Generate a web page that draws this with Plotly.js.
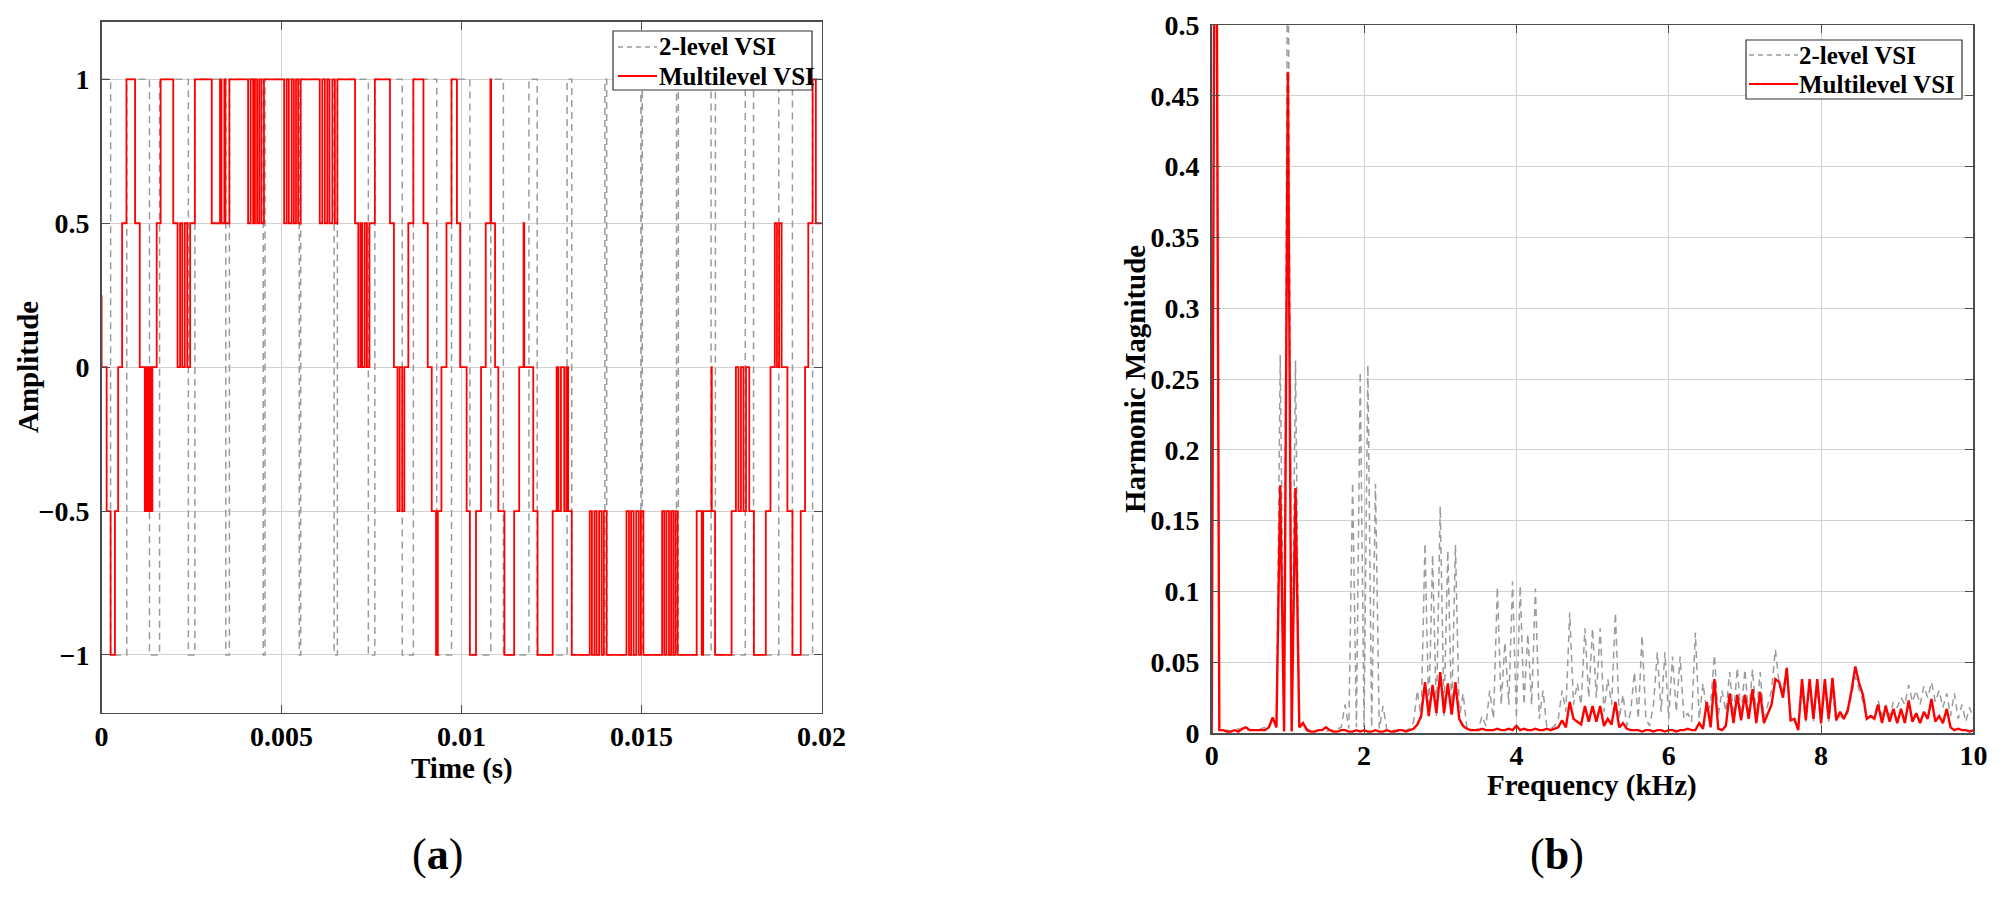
<!DOCTYPE html>
<html>
<head>
<meta charset="utf-8">
<script src="https://cdn.plot.ly/plotly-3.0.1.min.js"></script>
<style>
  html, body { margin: 0; padding: 0; background: #ffffff; }
  #chart { width: 2005px; height: 898px; }
</style>
</head>
<body>
<div id="chart"></div>
<script>
// ---------- (a) output voltage over one 50 Hz period ----------
// 2-level VSI: [switching instant in ms, level held afterwards]
const twoLevelSteps = [
  [0, 1], [0.25, -1], [0.70, 1], [1.33, -1], [1.61, 1], [2.41, -1], [2.59, 1],
  [3.45, -1], [3.55, 1], [4.49, -1], [4.54, 1], [5.49, -1], [5.53, 1],
  [6.46, -1], [6.55, 1], [7.41, -1], [7.59, 1], [8.35, -1], [8.66, 1],
  [9.31, -1], [9.72, 1], [10.23, -1], [10.81, 1], [11.16, -1], [11.87, 1],
  [12.10, -1], [12.93, 1], [13.06, -1], [13.98, 1], [14.03, -1], [14.98, 1],
  [15.02, -1], [15.97, 1], [16.02, -1], [16.93, 1], [17.05, -1], [17.88, 1],
  [18.11, -1], [18.81, 1], [19.19, -1], [19.75, 1], [20.0, 1]
];

// Multilevel VSI: [switching instant in ms, level held afterwards]
const multiLevelSteps = [
  [0, 0.25], [0, 0], [0.14, -0.5], [0.25, -1], [0.37, -0.5], [0.46, 0], [0.57, 0.5],
  [0.69, 1], [0.93, 0.5], [1.06, 0],
  [1.20, -0.5], [1.25, 0], [1.29, -0.5], [1.34, 0], [1.38, -0.5], [1.41, 0],
  [1.53, 0.5], [1.64, 1], [1.99, 0.5],
  [2.11, 0], [2.18, 0.5], [2.24, 0], [2.31, 0.5], [2.38, 0], [2.46, 0.5],
  [2.59, 1], [3.06, 0.5], [3.29, 1], [3.33, 0.5], [3.41, 1], [3.44, 0.5], [3.55, 1],
  [4.07, 0.5], [4.14, 1], [4.21, 0.5], [4.26, 1], [4.32, 0.5], [4.38, 1], [4.44, 0.5], [4.51, 1],
  [5.07, 0.5], [5.14, 1], [5.20, 0.5], [5.28, 1], [5.34, 0.5], [5.40, 1], [5.46, 0.5], [5.53, 1],
  [6.06, 0.5], [6.13, 1], [6.20, 0.5], [6.27, 1], [6.33, 0.5], [6.41, 1], [6.48, 0.5], [6.55, 1],
  [7.04, 0.5],
  [7.13, 0], [7.19, 0.5], [7.24, 0], [7.31, 0.5], [7.37, 0], [7.44, 0.5],
  [7.59, 1], [8.01, 0.5], [8.12, 0],
  [8.22, -0.5], [8.28, 0], [8.35, -0.5], [8.41, 0],
  [8.52, 0.5], [8.66, 1], [8.94, 0.5], [9.06, 0], [9.17, -0.5], [9.29, -1], [9.34, -0.5],
  [9.44, 0], [9.58, 0.5], [9.72, 1], [9.87, 0.5], [9.96, 0],
  [10.14, -0.5], [10.23, -1], [10.40, -0.5], [10.54, 0], [10.67, 0.5], [10.80, 1], [10.82, 0.5],
  [10.93, 0], [11.02, -0.5], [11.19, -1], [11.46, -0.5], [11.60, 0], [11.72, 0.5], [11.74, 0],
  [11.99, -0.5], [12.11, -1], [12.53, -0.5],
  [12.64, 0], [12.69, -0.5], [12.76, 0], [12.85, -0.5], [12.91, 0], [12.96, -0.5],
  [13.06, -1],
  [13.56, -0.5], [13.62, -1], [13.69, -0.5], [13.75, -1], [13.82, -0.5], [13.89, -1], [13.95, -0.5], [14.03, -1],
  [14.58, -0.5], [14.65, -1], [14.71, -0.5], [14.78, -1], [14.85, -0.5], [14.92, -1], [14.98, -0.5], [15.05, -1],
  [15.57, -0.5], [15.63, -1], [15.69, -0.5], [15.76, -1], [15.82, -0.5], [15.88, -1], [15.94, -0.5], [16.00, -1],
  [16.53, -0.5], [16.67, -1], [16.71, -0.5], [16.94, 0], [16.95, -0.5], [17.04, -1], [17.50, -0.5],
  [17.62, 0], [17.69, -0.5], [17.76, 0], [17.83, -0.5], [17.90, 0], [17.99, -0.5],
  [18.12, -1], [18.45, -0.5], [18.58, 0],
  [18.70, 0.5], [18.76, 0], [18.82, 0.5], [18.89, 0],
  [19.05, -0.5], [19.19, -1], [19.42, -0.5], [19.54, 0], [19.63, 0.5], [19.75, 1], [19.84, 0.5],
  [20.0, 0.5]
];

const timeTickVals = [0, 0.005, 0.01, 0.015, 0.02];
const timeTickText = ['0', '0.005', '0.01', '0.015', '0.02'];
const ampTickVals = [-1, -0.5, 0, 0.5, 1];

// ---------- (b) harmonic spectrum, 50 Hz bins from 0 to 10 kHz ----------
const binWidthKHz = 0.05;
const twoLevelSpectrum = [
  0, 0.8, 0.002, 0.001, 0.002, 0.001, 0.002, 0.003, 0.002, 0.002,
  0.002, 0.002, 0.002, 0.003, 0.004, 0.003, 0.010, 0.004, 0.267, 0.002,
  0.62, 0.002, 0.263, 0.004, 0.008, 0.003, 0.002, 0.001, 0.002, 0.002,
  0.001, 0.002, 0.002, 0.003, 0.004, 0.020, 0.003, 0.177, 0.004, 0.255,
  0.004, 0.260, 0.004, 0.176, 0.003, 0.019, 0.002, 0.001, 0.002, 0.001,
  0.002, 0.002, 0.003, 0.008, 0.030, 0.010, 0.134, 0.012, 0.126, 0.012,
  0.160, 0.012, 0.129, 0.012, 0.133, 0.010, 0.028, 0.004, 0.002, 0.002,
  0.003, 0.012, 0.005, 0.030, 0.010, 0.103, 0.020, 0.064, 0.020, 0.107,
  0.010, 0.104, 0.020, 0.070, 0.020, 0.102, 0.010, 0.030, 0.004, 0.003,
  0.005, 0.010, 0.030, 0.015, 0.085, 0.020, 0.035, 0.020, 0.074, 0.025,
  0.074, 0.025, 0.074, 0.015, 0.038, 0.020, 0.085, 0.010, 0.027, 0.005,
  0.015, 0.043, 0.010, 0.069, 0.010, 0.005, 0.020, 0.057, 0.015, 0.057,
  0.010, 0.054, 0.015, 0.054, 0.010, 0.014, 0.008, 0.071, 0.010, 0.035,
  0.015, 0.020, 0.055, 0.012, 0.030, 0.015, 0.043, 0.012, 0.046, 0.012,
  0.045, 0.012, 0.045, 0.012, 0.043, 0.010, 0.020, 0.030, 0.059, 0.035,
  0.030, 0.046, 0.012, 0.008, 0.004, 0.030, 0.008, 0.032, 0.008, 0.030,
  0.006, 0.032, 0.008, 0.030, 0.008, 0.012, 0.010, 0.014, 0.026, 0.040,
  0.030, 0.022, 0.010, 0.012, 0.012, 0.023, 0.012, 0.020, 0.012, 0.022,
  0.018, 0.025, 0.020, 0.034, 0.022, 0.030, 0.020, 0.033, 0.025, 0.036,
  0.022, 0.030, 0.018, 0.028, 0.012, 0.028, 0.010, 0.020, 0.008, 0.018,
  0.010];
const multiLevelSpectrum = [
  0, 0.8, 0.002, 0.002, 0.001, 0.001, 0.002, 0.001, 0.003, 0.004,
  0.002, 0.002, 0.002, 0.002, 0.002, 0.004, 0.011, 0.004, 0.175, 0.001,
  0.467, 0.001, 0.173, 0.004, 0.007, 0.002, 0.001, 0.001, 0.002, 0.002,
  0.004, 0.002, 0.001, 0.001, 0.002, 0.002, 0.001, 0.001, 0.002, 0.001,
  0.002, 0.001, 0.001, 0.002, 0.001, 0.001, 0.002, 0.001, 0.001, 0.002,
  0.002, 0.001, 0.002, 0.003, 0.006, 0.012, 0.036, 0.012, 0.034, 0.014,
  0.043, 0.014, 0.035, 0.013, 0.036, 0.010, 0.005, 0.003, 0.002, 0.002,
  0.002, 0.003, 0.002, 0.002, 0.002, 0.003, 0.002, 0.002, 0.003, 0.002,
  0.005, 0.002, 0.003, 0.002, 0.002, 0.003, 0.002, 0.002, 0.003, 0.002,
  0.003, 0.004, 0.009, 0.004, 0.022, 0.010, 0.008, 0.006, 0.019, 0.008,
  0.019, 0.008, 0.019, 0.005, 0.010, 0.006, 0.022, 0.004, 0.007, 0.003,
  0.002, 0.002, 0.002, 0.001, 0.002, 0.002, 0.001, 0.002, 0.002, 0.001,
  0.002, 0.002, 0.001, 0.002, 0.002, 0.003, 0.002, 0.002, 0.007, 0.003,
  0.022, 0.004, 0.038, 0.003, 0.002, 0.005, 0.028, 0.007, 0.027, 0.009,
  0.027, 0.010, 0.031, 0.007, 0.029, 0.007, 0.014, 0.020, 0.038, 0.036,
  0.025, 0.046, 0.009, 0.010, 0.002, 0.038, 0.009, 0.038, 0.010, 0.038,
  0.007, 0.038, 0.010, 0.039, 0.009, 0.015, 0.010, 0.016, 0.030, 0.047,
  0.035, 0.027, 0.010, 0.012, 0.010, 0.020, 0.007, 0.019, 0.008, 0.017,
  0.007, 0.017, 0.007, 0.023, 0.008, 0.014, 0.007, 0.015, 0.010, 0.024,
  0.008, 0.012, 0.007, 0.017, 0.004, 0.002, 0.003, 0.002, 0.002, 0.001,
  0.002];

const freqTickVals = [0, 2, 4, 6, 8, 10];
const magTickVals = [0, 0.05, 0.1, 0.15, 0.2, 0.25, 0.3, 0.35, 0.4, 0.45, 0.5];
const magTickText = ['0', '0.05', '0.1', '0.15', '0.2', '0.25', '0.3', '0.35', '0.4', '0.45', '0.5'];

const seriesNames = ['2-level VSI', 'Multilevel VSI'];

// ---------- page geometry (pixels) ----------
const W = 2005, H = 898;
const px = v => v / W;
const py = v => 1 - v / H;

const frequencyBins = twoLevelSpectrum.map((_, i) => +(i * binWidthKHz).toFixed(2));
const stepTimes = steps => steps.map(s => s[0] / 1000);
const stepLevels = steps => steps.map(s => s[1]);

const SERIF = 'Liberation Serif, Times New Roman, serif';
const GRAY = '#9b9b9b';
const RED = '#ff0000';
const GRAY_DASH = '7px,5px';

const traces = [
  {
    x: stepTimes(twoLevelSteps), y: stepLevels(twoLevelSteps), xaxis: 'x', yaxis: 'y',
    type: 'scatter', mode: 'lines', line: { shape: 'hv', color: GRAY, width: 1.5, dash: GRAY_DASH },
    name: seriesNames[0], showlegend: false
  },
  {
    x: stepTimes(multiLevelSteps), y: stepLevels(multiLevelSteps), xaxis: 'x', yaxis: 'y',
    type: 'scatter', mode: 'lines', line: { shape: 'hv', color: RED, width: 1.8 },
    name: seriesNames[1], showlegend: false
  },
  {
    x: frequencyBins, y: twoLevelSpectrum, xaxis: 'x2', yaxis: 'y2',
    type: 'scatter', mode: 'lines', line: { color: GRAY, width: 1.5, dash: GRAY_DASH },
    name: seriesNames[0], showlegend: false
  },
  {
    x: frequencyBins, y: multiLevelSpectrum, xaxis: 'x2', yaxis: 'y2',
    type: 'scatter', mode: 'lines', line: { color: RED, width: 2.4 },
    name: seriesNames[1], showlegend: false
  }
];

const tickFont = { family: SERIF, size: 28, color: '#000', weight: 'bold' };
const axisBase = {
  showline: true, linecolor: '#4d4d4d', linewidth: 1.5, mirror: 'ticks',
  ticks: 'inside', ticklen: 8, tickwidth: 1, tickcolor: '#4d4d4d',
  showgrid: true, gridcolor: '#d2d2d2', gridwidth: 1, zeroline: false,
  tickfont: tickFont, fixedrange: true
};

// Boxed legends drawn as shapes + text
function legendBox(x0, x1, y0, y1, lineX0, lineX1, textX, row1, row2) {
  const shapes = [
    { type: 'rect', xref: 'paper', yref: 'paper', x0: px(x0), x1: px(x1), y0: py(y1), y1: py(y0),
      line: { color: '#333333', width: 1.2 }, fillcolor: '#ffffff', layer: 'above' },
    { type: 'line', xref: 'paper', yref: 'paper', x0: px(lineX0), x1: px(lineX1), y0: py(row1), y1: py(row1),
      line: { color: GRAY, width: 1.5, dash: '5px,4px' }, layer: 'above' },
    { type: 'line', xref: 'paper', yref: 'paper', x0: px(lineX0), x1: px(lineX1), y0: py(row2), y1: py(row2),
      line: { color: RED, width: 2 }, layer: 'above' }
  ];
  const font = { family: SERIF, size: 25, color: '#000', weight: 'bold' };
  const notes = [
    { text: seriesNames[0], xref: 'paper', yref: 'paper', x: px(textX), y: py(row1),
      xanchor: 'left', yanchor: 'middle', showarrow: false, font: font },
    { text: seriesNames[1], xref: 'paper', yref: 'paper', x: px(textX), y: py(row2),
      xanchor: 'left', yanchor: 'middle', showarrow: false, font: font }
  ];
  return { shapes, notes };
}
const legA = legendBox(613, 812, 31, 90, 618, 657, 657, 47, 76);
const legB = legendBox(1746, 1962, 40, 99, 1749, 1798, 1797, 55, 84);

const titleFont = { family: SERIF, size: 29, color: '#000', weight: 'bold' };
const center = { xref: 'paper', yref: 'paper', xanchor: 'center', yanchor: 'middle', showarrow: false };

const layout = {
  width: W, height: H,
  margin: { l: 0, r: 0, t: 0, b: 0 },
  paper_bgcolor: '#ffffff', plot_bgcolor: '#ffffff',
  showlegend: false,
  xaxis: Object.assign({}, axisBase, {
    domain: [px(101.6), px(821.6)], range: [0, 0.02], anchor: 'y',
    tickvals: timeTickVals, ticktext: timeTickText, ticklabelstandoff: -2
  }),
  yaxis: Object.assign({}, axisBase, {
    domain: [py(712.5), py(21.8)], range: [-1.2, 1.2], anchor: 'x',
    tickvals: ampTickVals, ticklabelstandoff: 5
  }),
  xaxis2: Object.assign({}, axisBase, {
    domain: [px(1211.7), px(1973.4)], range: [0, 10], anchor: 'y2',
    tickvals: freqTickVals, ticklabelstandoff: -3
  }),
  yaxis2: Object.assign({}, axisBase, {
    domain: [py(733), py(25)], range: [0, 0.5], anchor: 'x2',
    tickvals: magTickVals, ticktext: magTickText, ticklabelstandoff: 5
  }),
  shapes: legA.shapes.concat(legB.shapes),
  annotations: [
    Object.assign({ text: 'Time (s)', x: px(462), y: py(768), font: titleFont }, center),
    Object.assign({ text: 'Amplitude', x: px(28), y: py(367), textangle: -90, font: titleFont }, center),
    Object.assign({ text: 'Frequency (kHz)', x: px(1592), y: py(785), font: titleFont }, center),
    Object.assign({ text: 'Harmonic Magnitude', x: px(1135), y: py(379), textangle: -90, font: titleFont }, center),
    Object.assign({ text: '(<b>a</b>)', x: px(437), y: py(854),
      font: { family: SERIF, size: 44, color: '#000' } }, center),
    Object.assign({ text: '(<b>b</b>)', x: px(1557), y: py(854),
      font: { family: SERIF, size: 44, color: '#000' } }, center)
  ].concat(legA.notes, legB.notes)
};

Plotly.newPlot('chart', traces, layout, { displayModeBar: false, staticPlot: true });
</script>
</body>
</html>
